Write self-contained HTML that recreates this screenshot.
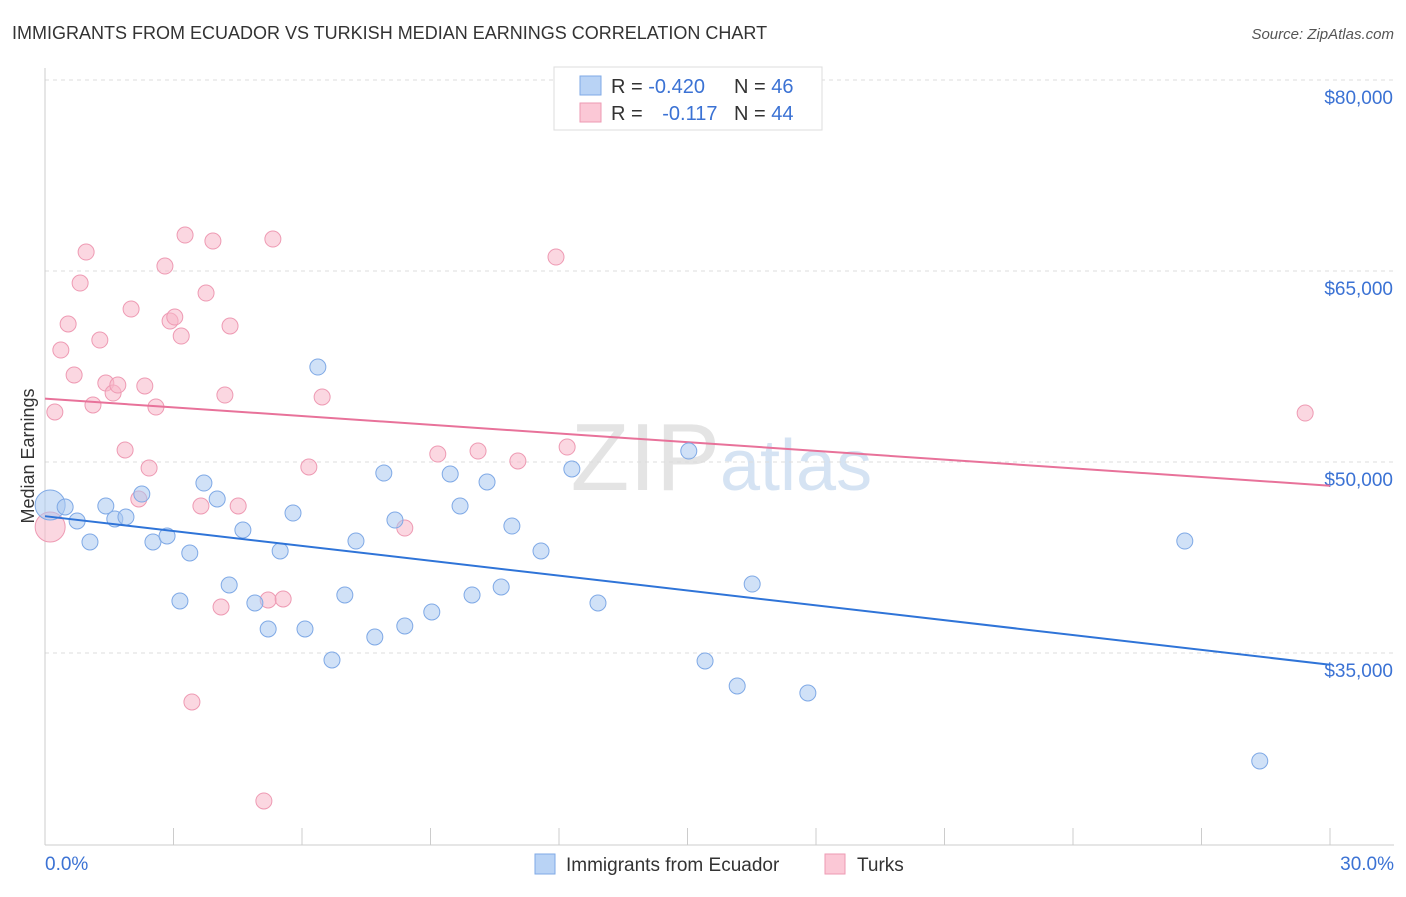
<!DOCTYPE html>
<html><head><meta charset="utf-8"><style>
body{margin:0;background:#fff;font-family:"Liberation Sans",sans-serif}
svg text{font-family:"Liberation Sans",sans-serif}
</style></head><body>
<svg id="chart" width="1406" height="892" viewBox="0 0 1406 892" xmlns="http://www.w3.org/2000/svg">
<text x="12" y="39" font-size="18" fill="#333">IMMIGRANTS FROM ECUADOR VS TURKISH MEDIAN EARNINGS CORRELATION CHART</text>
<text x="1394" y="39" font-size="15" fill="#555" font-style="italic" text-anchor="end">Source: ZipAtlas.com</text>
<text x="720" y="490" font-size="96" fill="#e4e4e4" text-anchor="end" font-family="Liberation Serif">ZIP</text>
<text x="720" y="490" font-size="72" fill="#d5e3f3">atlas</text>
<text transform="translate(34,456) rotate(-90)" font-size="18" fill="#333" text-anchor="middle">Median Earnings</text>
<g id="grid"></g><g id="axes"></g><g id="marks"></g>
<g>
<rect x="554" y="67" width="268" height="63" fill="#fff" stroke="#ddd"/>
<rect x="580" y="76" width="21" height="19" fill="#b9d3f5" stroke="#7fa9e6"/>
<rect x="580" y="103" width="21" height="19" fill="#fbc8d6" stroke="#ee9ab3"/>
<text x="611" y="93" font-size="20" fill="#333">R = <tspan fill="#3b72d4">-0.420</tspan></text>
<text x="734" y="93" font-size="20" fill="#333">N = <tspan fill="#3b72d4">46</tspan></text>
<text x="611" y="120" font-size="20" fill="#333">R = <tspan fill="#3b72d4" dx="14">-0.117</tspan></text>
<text x="734" y="120" font-size="20" fill="#333">N = <tspan fill="#3b72d4">44</tspan></text>
</g>
<g>
<rect x="535" y="854" width="20" height="20" fill="#b9d3f5" stroke="#7fa9e6"/>
<text x="566" y="871" font-size="19" fill="#333">Immigrants from Ecuador</text>
<rect x="825" y="854" width="20" height="20" fill="#fbc8d6" stroke="#ee9ab3"/>
<text x="857" y="871" font-size="19" fill="#333">Turks</text>
</g>
</svg>
<script>
const xTicks=[0,3,6,9,12,15,18,21,24,27,30];
const yTicks=[35000,50000,65000,80000];
const yTickLabels=["$35,000","$50,000","$65,000","$80,000"];
const blueX=[0.12,0.47,0.75,1.05,1.42,1.63,1.89,2.26,2.52,2.85,3.15,3.38,3.71,4.02,4.30,4.62,4.90,5.21,5.49,5.79,6.07,6.37,6.70,7.00,7.26,7.70,7.91,8.17,8.40,9.03,9.46,9.69,9.97,10.32,10.65,10.90,11.58,12.30,12.91,15.03,15.41,16.16,16.51,17.81,26.61,28.36];
const blueY=[46622,46466,45366,43717,46544,45523,45680,47486,43717,44188,39084,42853,48350,47094,40340,44659,38927,36885,43010,45994,36885,57460,34450,39555,43795,36256,49135,45444,37120,38220,49057,46544,39555,48429,40183,44973,43010,49450,38927,50863,34372,32409,40418,31859,43795,26519];
const pinkX=[0.12,0.23,0.37,0.54,0.68,0.82,0.96,1.12,1.28,1.42,1.59,1.70,1.87,2.01,2.19,2.33,2.43,2.59,2.80,2.92,3.03,3.18,3.27,3.64,3.76,3.92,4.11,4.20,4.32,4.51,3.43,5.11,5.21,5.32,5.56,6.16,6.47,8.40,9.17,10.11,11.04,11.93,12.19,29.42];
const pinkY=[44895,53926,58795,60837,56831,64056,66491,54476,59580,56203,55418,56046,50942,62014,47094,55968,49528,54318,65391,61072,61386,59894,67826,46544,63271,67354,38613,55261,60680,46544,31152,23378,39162,67511,39241,49607,55104,44816,50627,50863,50078,66098,51177,53847];
const NS="http://www.w3.org/2000/svg";
const X=v=>45+v/30*1285;
const Y=v=>653-(v-35000)*191/15000;
function mk(tag,attrs,parent){const e=document.createElementNS(NS,tag);for(const k in attrs)e.setAttribute(k,attrs[k]);parent.appendChild(e);return e;}
const grid=document.getElementById('grid'),axes=document.getElementById('axes'),marks=document.getElementById('marks');
yTicks.forEach((t,i)=>{
 const l=mk('line',{x1:45,x2:1394,y1:Y(t),y2:Y(t),stroke:'#ddd','stroke-dasharray':'4 4'},grid);
 
 
 const tx=mk('text',{x:1393,y:Y(t)+24,'font-size':19,fill:'#3b72d4','text-anchor':'end'},axes);
 tx.textContent=yTickLabels[i];
 
 
});
const ax=mk('line',{x1:45,x2:1394,y1:845,y2:845,stroke:'#ccc'},axes);


const ay=mk('line',{x1:45,x2:45,y1:68,y2:845,stroke:'#ccc'},axes);


xTicks.forEach(t=>{
 const l=mk('line',{x1:X(t),x2:X(t),y1:828,y2:845,stroke:'#ccc'},axes);
 
 
});
const xl0=mk('text',{x:45,y:870,'font-size':19,fill:'#3b72d4'},axes);xl0.textContent=xTicks[0].toFixed(1)+'%';


const xl1=mk('text',{x:1394,y:870,'font-size':19,fill:'#3b72d4','text-anchor':'end'},axes);xl1.textContent=xTicks[xTicks.length-1].toFixed(1)+'%';


function series(xs,ys,fill,stroke,line,name){
 xs.forEach((x,i)=>{
  const big=i===0;
  const c=mk('circle',{cx:X(x),cy:Y(ys[i]),r:big?15:8,fill:fill,'fill-opacity':0.55,stroke:stroke,'stroke-width':1},marks);
  
  
 });
 const n=xs.length;let mx=0,my=0;xs.forEach((x,i)=>{mx+=x;my+=ys[i]});mx/=n;my/=n;
 let sxy=0,sxx=0;xs.forEach((x,i)=>{sxy+=(x-mx)*(ys[i]-my);sxx+=(x-mx)**2});
 const b=sxy/sxx,a=my-b*mx;
 const l=mk('line',{x1:X(0),y1:Y(a),x2:X(30),y2:Y(a+b*30),stroke:line,'stroke-width':2},marks);
 
 
}
series(pinkX,pinkY,'#f7b6c9','#ee9ab3','#e8729a','turks');
series(blueX,blueY,'#a9c8f0','#7fa9e6','#2f74d8','ecuador');
</script>
</body></html>
